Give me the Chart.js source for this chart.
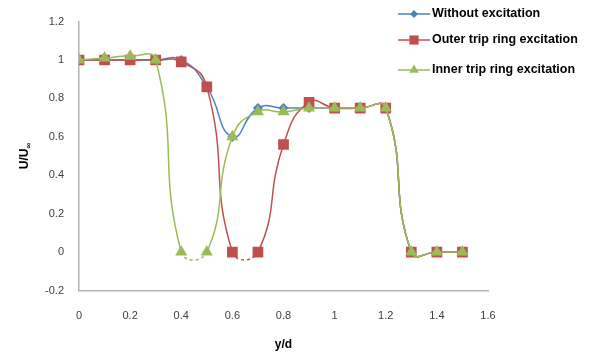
<!DOCTYPE html>
<html>
<head>
<meta charset="utf-8">
<script src="https://cdn.jsdelivr.net/npm/chart.js@4"></script>
<style>
  html, body { margin: 0; padding: 0; background: #fff; }
  #wrap { width: 591px; height: 356px; position: relative; }
</style>
</head>
<body>
<div id="wrap"><canvas id="chart" width="591" height="356"></canvas></div>
<script>
// positions y/d
const yd = [0, 0.1, 0.2, 0.3, 0.4, 0.5, 0.6, 0.7, 0.8, 0.9, 1.0, 1.1, 1.2, 1.3, 1.4, 1.5];

// U/Uinf for each case
const withoutExc = [1, 1, 1, 1, 1, 0.86, 0.6, 0.75, 0.75, 0.75, 0.75, 0.75, 0.75, 0, 0, 0];
const outerExc   = [1, 1, 1, 1, 0.99, 0.86, 0, 0, 0.56, 0.78, 0.75, 0.75, 0.75, 0, 0, 0];
const innerExc   = [1, 1.01, 1.02, 1, 0, 0, 0.6, 0.73, 0.73, 0.75, 0.75, 0.75, 0.75, 0, 0, 0];

const seriesNames = ['Without excitation', 'Outer trip ring excitation', 'Inner trip ring excitation'];

const xTicks = [0, 0.2, 0.4, 0.6, 0.8, 1, 1.2, 1.4, 1.6];
const yTicks = [-0.2, 0, 0.2, 0.4, 0.6, 0.8, 1, 1.2];

const toPoints = vals => yd.map((x, i) => ({ x: x, y: vals[i] }));

// dashed where the curve dips under zero between two zero points (before 1.0)
const dipDash = ctx =>
  (ctx.p0.parsed.y === 0 && ctx.p1.parsed.y === 0 && ctx.p0.parsed.x < 1) ? [3, 3] : undefined;

const FONT = "'Liberation Sans', Arial, sans-serif";

// legend drawn inside the plot, top right
const legendPlugin = {
  id: 'sideLegend',
  afterDraw(chart) {
    const c = chart.ctx;
    const rows = [14, 40, 70];
    chart.data.datasets.forEach((ds, i) => {
      const y = rows[i];
      c.save();
      c.strokeStyle = ds.borderColor;
      c.lineWidth = 1.5;
      c.beginPath();
      c.moveTo(398, y);
      c.lineTo(430, y);
      c.stroke();
      c.fillStyle = ds.pointBackgroundColor;
      c.strokeStyle = ds.pointBorderColor;
      Chart.helpers.drawPoint(c, { pointStyle: ds.pointStyle, radius: ds.pointRadius, borderWidth: 0 }, 414, y);
      c.fillStyle = '#000';
      c.font = 'bold 12.5px ' + FONT;
      c.textBaseline = 'middle';
      c.textAlign = 'left';
      c.fillText(ds.label, 432, y);
      c.restore();
    });
  }
};

// y title with subscript infinity
const yTitlePlugin = {
  id: 'yTitle',
  afterDraw(chart) {
    const c = chart.ctx;
    const a = chart.chartArea;
    c.save();
    c.translate(24, (a.top + a.bottom) / 2);
    c.rotate(-Math.PI / 2);
    c.fillStyle = '#000';
    c.textBaseline = 'alphabetic';
    const main = 'U/U';
    c.font = 'bold 12px ' + FONT;
    const w1 = c.measureText(main).width;
    c.font = 'bold 8px ' + FONT;
    const w2 = c.measureText('\u221e').width;
    const x0 = -(w1 + w2) / 2;
    c.font = 'bold 12px ' + FONT;
    c.fillText(main, x0, 4);
    c.font = 'bold 8px ' + FONT;
    c.fillText('\u221e', x0 + w1, 7);
    c.restore();
  }
};

new Chart(document.getElementById('chart'), {
  type: 'line',
  data: {
    datasets: [
      {
        label: seriesNames[0],
        data: toPoints(withoutExc),
        borderColor: '#4F81BD',
        pointBackgroundColor: '#4F81BD',
        pointBorderColor: '#4F81BD',
        pointStyle: 'rectRot',
        pointRadius: 4,
        borderWidth: 1.5,
        tension: 0.5,
        order: 3
      },
      {
        label: seriesNames[1],
        data: toPoints(outerExc),
        borderColor: '#C0504D',
        pointBackgroundColor: '#C0504D',
        pointBorderColor: '#C0504D',
        pointStyle: 'rect',
        pointRadius: 6.5,
        borderWidth: 1.5,
        tension: 0.5,
        order: 2,
        segment: { borderDash: dipDash }
      },
      {
        label: seriesNames[2],
        data: toPoints(innerExc),
        borderColor: '#9BBB59',
        pointBackgroundColor: '#9BBB59',
        pointBorderColor: '#9BBB59',
        pointStyle: 'triangle',
        pointRadius: 5.5,
        borderWidth: 1.5,
        tension: 0.5,
        order: 1,
        segment: { borderDash: dipDash }
      }
    ]
  },
  options: {
    responsive: false,
    animation: false,
    layout: { padding: { top: 13, right: 103, left: 0, bottom: 0 } },
    plugins: {
      legend: { display: false },
      tooltip: { enabled: false }
    },
    elements: { point: { borderWidth: 0 } },
    scales: {
      x: {
        type: 'linear',
        min: 0,
        max: 1.6,
        afterBuildTicks: s => { s.ticks = xTicks.map(v => ({ value: v })); },
        afterFit: s => { s.height = 65.5; },
        grid: { display: false, drawTicks: false },
        border: { color: '#b3b3b3', width: 1.5 },
        ticks: {
          padding: 19,
          color: '#404040',
          font: { family: FONT, size: 11 },
          maxRotation: 0,
          callback: v => String(v)
        },
        title: {
          display: true,
          text: 'y/d',
          color: '#000',
          font: { family: FONT, size: 12, weight: 'bold' },
          padding: { top: 0, bottom: 4 }
        }
      },
      y: {
        min: -0.2,
        max: 1.2,
        afterBuildTicks: s => { s.ticks = yTicks.map(v => ({ value: v })); },
        afterFit: s => { s.width = 79; },
        grid: { display: false, drawTicks: false },
        border: { color: '#b3b3b3', width: 1.5 },
        ticks: {
          padding: 15,
          color: '#404040',
          font: { family: FONT, size: 11 },
          callback: v => String(Math.round(v * 10) / 10)
        }
      }
    }
  },
  plugins: [legendPlugin, yTitlePlugin]
});
</script>
</body>
</html>
